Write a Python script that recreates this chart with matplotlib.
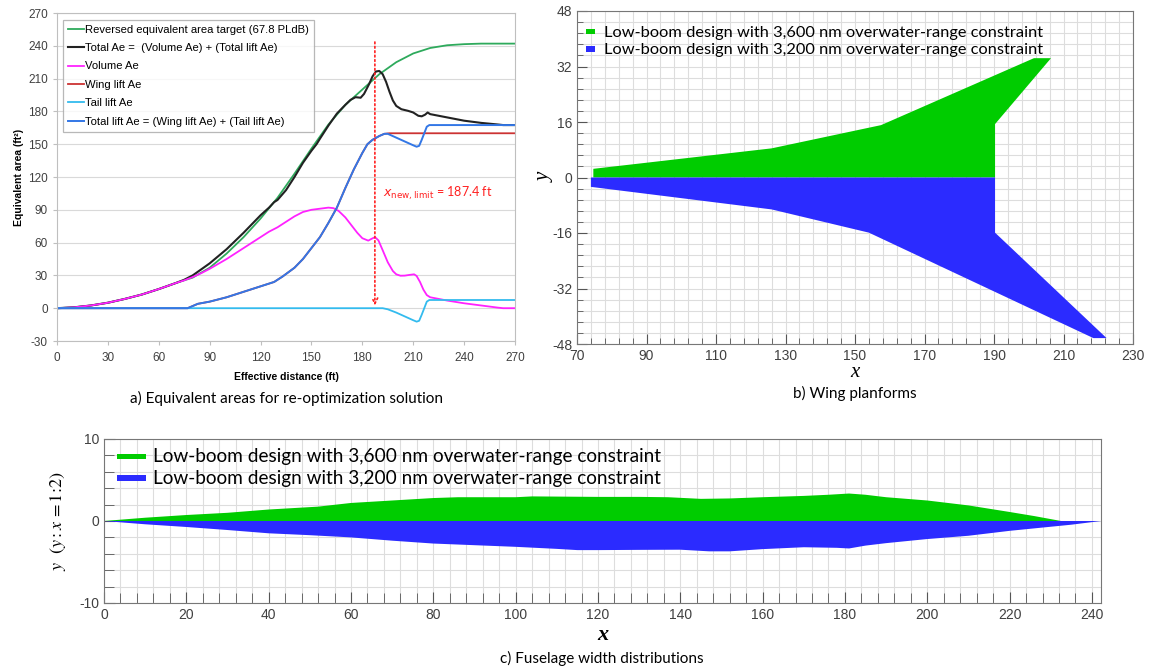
import matplotlib
matplotlib.use("Agg")
import matplotlib.pyplot as plt
from matplotlib.ticker import MultipleLocator

plt.rcParams['axes.unicode_minus'] = False

# ---- a) equivalent areas ----
target_x = [0, 10, 20, 30, 40, 50, 60, 70, 80, 90, 100, 110, 120, 130, 140, 150, 160, 170, 180, 190,
            200, 210, 220, 230, 240, 250, 260, 270]
target_y = [0, 0.8, 2.5, 5, 8.5, 12.5, 17.5, 23, 28, 37, 50, 65, 82, 101, 123, 146, 168, 186, 200, 214,
            225, 233, 238, 240.5, 241.5, 242, 242, 242]

total_x = [0, 10, 20, 30, 40, 50, 60, 70, 75, 80, 90, 100, 110, 120, 125, 128, 130, 135, 140, 145, 150,
           153, 155, 160, 165, 170, 173, 176, 179, 181, 184, 186, 188, 190, 192, 194, 196, 198, 200, 203,
           207, 210, 213, 215, 217, 218.5, 220, 225, 230, 240, 250, 260, 263, 270]
total_y = [0, 0.8, 2.5, 5, 8.5, 12.5, 17.5, 23, 26, 30, 41, 54, 69, 85, 92, 97, 99, 108, 120, 133, 144,
           150, 155, 167, 178, 186, 190.5, 193, 192.5, 196, 205, 212, 216.5, 217, 214, 207, 198, 190, 185, 182,
           180.5, 179, 176, 175.5, 177, 179, 177.5, 176, 174.5, 171.5, 169.5, 168, 167.5, 167.5]

volume_x = [0, 10, 20, 30, 40, 50, 60, 70, 75, 80, 85, 90, 100, 110, 120, 125, 130, 135, 140, 145, 150,
            155, 160, 163, 166, 170, 174, 177, 180, 183.5, 185.5, 187.5, 189.5, 192, 195, 198, 200, 202.5,
            205, 208, 210.5, 212, 214, 216, 218, 220, 225, 230, 240, 250, 260, 263, 270]
volume_y = [0, 0.8, 2.5, 5, 8.5, 12.5, 17.5, 23, 25.5, 28.5, 32, 36, 45, 55, 65, 70, 74, 79, 84, 88, 90,
            91, 92, 91.5, 89, 83, 75, 69, 64, 61.8, 63.5, 65, 62, 53, 42, 34, 31, 29.7,
            29.8, 30.5, 31, 29.5, 24, 17, 12, 10, 8.5, 7, 4.5, 2.5, 0.5, 0, 0]

lift_x = [0, 77, 80, 83, 90, 100, 110, 120, 128, 133, 140, 145, 150, 155, 160, 165, 170, 175, 180, 183,
          186, 190, 193, 195, 200, 205, 210, 212, 213.5, 215, 216.5, 218, 219.5, 270]
lift_y = [0, 0, 2, 4, 6, 10, 15, 20, 24, 29, 37, 45, 55, 65, 78, 92, 110, 127, 142, 150,
          154, 157.5, 159.5, 159.5, 156, 152.5, 149, 147.7, 148.5, 154, 160, 166, 167.5, 167.5]

wing_x = [0, 77, 80, 83, 90, 100, 110, 120, 128, 133, 140, 145, 150, 155, 160, 165, 170, 175, 180, 183,
          186, 190, 193, 196, 270]
wing_y = [0, 0, 2, 4, 6, 10, 15, 20, 24, 29, 37, 45, 55, 65, 78, 92, 110, 127, 142, 150,
          154, 157.5, 159.5, 160, 160]

tail_x = [0, 192, 195, 200, 205, 210, 212, 213.5, 215, 216.5, 218, 219.5, 270]
tail_y = [0, 0, -1, -4, -7.5, -11, -12.3, -11.5, -6, 0, 6, 7.5, 7.5]

x_limit = 187.4

# ---- b) wing planforms ----
wing3600_x = [74.7, 74.7, 126, 157.5, 201.5, 206.4, 190.3, 190.3]
wing3600_y = [0, 2.5, 8.4, 15.1, 34.4, 34.4, 15.4, 0]
wing3200_x = [74.0, 74.0, 126, 154, 218.6, 222.4, 190.3, 190.3]
wing3200_y = [0, -2.7, -9.2, -15.9, -46.3, -46.3, -15.9, 0]
b_xticks = [70, 90, 110, 130, 150, 170, 190, 210, 230]

# ---- c) fuselage widths ----
fus3600_x = [0, 10, 20, 30, 40, 52, 60, 70, 80, 86, 100, 104, 120, 130, 137, 145, 152, 160, 170, 176,
             181, 185, 190, 200, 210, 220, 226, 232.5]
fus3600_y = [0, 0.4, 0.73, 1.0, 1.4, 1.75, 2.2, 2.5, 2.8, 2.9, 2.9, 3.0, 2.94, 2.94, 2.9, 2.7, 2.75, 2.9,
             3.06, 3.2, 3.35, 3.2, 2.9, 2.5, 1.9, 1.1, 0.6, 0]
fus3200_x = [0, 10, 20, 30, 40, 50, 60, 70, 80, 90, 100, 110, 115, 120, 130, 140, 147, 152, 160, 170,
             178, 181, 185, 190, 200, 210, 220, 230, 235, 242.2]
fus3200_y = [0, -0.4, -0.73, -1.1, -1.5, -1.73, -2.0, -2.4, -2.75, -2.95, -3.15, -3.4, -3.55, -3.55,
             -3.52, -3.5, -3.7, -3.7, -3.43, -3.2, -3.27, -3.35, -3.0, -2.7, -2.2, -1.8, -1.2, -0.7, -0.45, 0]

W, H = 1151, 672
fig = plt.figure(figsize=(W / 100, H / 100), dpi=100)


def box(l, t, r, b):
    return [l / W, 1 - b / H, (r - l) / W, (b - t) / H]


sans = ['Liberation Sans', 'DejaVu Sans']
cap = ['Lato', 'DejaVu Sans']
serif = ['Liberation Serif', 'DejaVu Serif']
tick_col = '#404040'

# panel a
ax1 = fig.add_axes(box(57, 13, 515, 341))
ax1.plot(target_x, target_y, color='#2EAA5C', lw=1.3, label='Reversed equivalent area target (67.8 PLdB)')
ax1.plot(total_x, total_y, color='#222222', lw=1.5, label='Total Ae =  (Volume Ae) + (Total lift Ae)')
ax1.plot(volume_x, volume_y, color='#FF22FF', lw=1.3, label='Volume Ae')
ax1.plot(wing_x, wing_y, color='#CC3333', lw=1.3, label='Wing lift Ae')
ax1.plot(tail_x, tail_y, color='#33BBEE', lw=1.3, label='Tail lift Ae')
ax1.plot(lift_x, lift_y, color='#3377E6', lw=1.4, label='Total lift Ae = (Wing lift Ae) + (Tail lift Ae)')
ax1.annotate('', xy=(x_limit, 0), xytext=(x_limit, 246),
             arrowprops=dict(arrowstyle='->', color='#FF2020', lw=1.2, linestyle=':'))
ax1.text(192, 105, r'$x_{\mathrm{new,limit}}$ = 187.4 ft', color='#FF2020', fontsize=9,
         family=cap, va='center')
ax1.set_xlim(0, 270)
ax1.set_ylim(-30, 270)
ax1.xaxis.set_major_locator(MultipleLocator(30))
ax1.yaxis.set_major_locator(MultipleLocator(30))
ax1.grid(axis='y', color='#D9D9D9', lw=0.8)
ax1.set_axisbelow(True)
for s in ax1.spines.values():
    s.set_color('#BFBFBF')
ax1.tick_params(colors=tick_col, labelsize=8.5, length=3, color='#BFBFBF')
ax1.tick_params(axis='x', pad=5)
for lab in ax1.get_xticklabels() + ax1.get_yticklabels():
    lab.set_family(sans)
ax1.set_xlabel('Effective distance (ft)', fontsize=7.5, fontweight='bold', family=sans, labelpad=6)
ax1.set_ylabel('Equivalent area (ft²)', fontsize=7.5, fontweight='bold', family=sans, labelpad=3)
leg = ax1.legend(loc='upper left', prop={'family': sans, 'size': 8.15}, handlelength=1.4,
                 handletextpad=0.1, borderpad=0.45, labelspacing=0.74, fancybox=False,
                 bbox_to_anchor=(0.0, 0.997))
leg.get_frame().set_edgecolor('#A6A6A6')
leg.get_frame().set_linewidth(0.9)
fig.text(286 / W, 1 - 398 / H, 'a) Equivalent areas for re-optimization solution', ha='center',
         va='center', fontsize=11, family=cap)

# panel b
ax2 = fig.add_axes(box(577, 11, 1133, 344))
ax2.fill(wing3600_x, wing3600_y, color='#00CC00', lw=0,
         label='Low-boom design with 3,600 nm overwater-range constraint')
ax2.fill(wing3200_x, wing3200_y, color='#2B2BFF', lw=0,
         label='Low-boom design with 3,200 nm overwater-range constraint')
ax2.set_xlim(70, 230)
ax2.set_ylim(-48, 48)
ax2.set_xticks(b_xticks)
ax2.xaxis.set_minor_locator(MultipleLocator(4, offset=2))
ax2.yaxis.set_major_locator(MultipleLocator(16))
ax2.yaxis.set_minor_locator(MultipleLocator(3.2))
ax2.grid(which='both', color='#DDDDDD', lw=0.8)
ax2.set_axisbelow(True)
ax2.tick_params(which='both', direction='in', colors=tick_col, color='#555555', labelsize=10)
ax2.tick_params(which='major', length=7)
ax2.tick_params(which='minor', length=4)
for s in ax2.spines.values():
    s.set_color('#777777')
for lab in ax2.get_xticklabels() + ax2.get_yticklabels():
    lab.set_family(sans)
ax2.set_xlabel('x', fontsize=15, style='italic', family=serif, labelpad=0)
ax2.set_ylabel('y', fontsize=15, style='italic', family=serif, labelpad=-2)
leg2 = ax2.legend(loc='upper left', prop={'family': cap, 'size': 11.8}, handlelength=0.6,
                  handleheight=0.3, handletextpad=0.5, labelspacing=0.2, frameon=False,
                  bbox_to_anchor=(-0.011, 1.0))
fig.text(855 / W, 1 - 393 / H, 'b) Wing planforms', ha='center', va='center', fontsize=11, family=cap)

# panel c
ax3 = fig.add_axes(box(104, 439, 1101, 603))
ax3.fill(fus3600_x + [0], fus3600_y + [0], color='#00CC00', lw=0,
         label='Low-boom design with 3,600 nm overwater-range constraint')
ax3.fill(fus3200_x + [0], fus3200_y + [0], color='#2B2BFF', lw=0,
         label='Low-boom design with 3,200 nm overwater-range constraint')
ax3.set_xlim(0, 242.2)
ax3.set_ylim(-10, 10)
ax3.xaxis.set_major_locator(MultipleLocator(20))
ax3.xaxis.set_minor_locator(MultipleLocator(4))
ax3.yaxis.set_major_locator(MultipleLocator(10))
ax3.yaxis.set_minor_locator(MultipleLocator(2))
ax3.grid(which='both', color='#DDDDDD', lw=0.8)
ax3.set_axisbelow(True)
ax3.tick_params(which='both', direction='in', colors=tick_col, color='#555555', labelsize=10)
ax3.tick_params(which='major', length=8)
ax3.tick_params(which='minor', length=7)
for s in ax3.spines.values():
    s.set_color('#777777')
for lab in ax3.get_xticklabels() + ax3.get_yticklabels():
    lab.set_family(sans)
ax3.set_xlabel('x', fontsize=16, style='italic', fontweight='bold', family=serif, labelpad=2)
ax3.set_ylabel(r'$y\ \ (y : x\, = 1\!:\!2)$', fontsize=13, math_fontfamily='stix', labelpad=8)
leg3 = ax3.legend(loc='upper left', prop={'family': cap, 'size': 13.7}, handlelength=1.5,
                  handleheight=0.3, handletextpad=0.4, labelspacing=0.25, frameon=False,
                  bbox_to_anchor=(-0.004, 1.05))
for lg in (leg2, leg3):
    for h in lg.legend_handles:
        h.set_height(4)
fig.text(602 / W, 1 - 658 / H, 'c) Fuselage width distributions', ha='center', va='center',
         fontsize=11, family=cap)

fig.savefig('out.png', dpi=100)
